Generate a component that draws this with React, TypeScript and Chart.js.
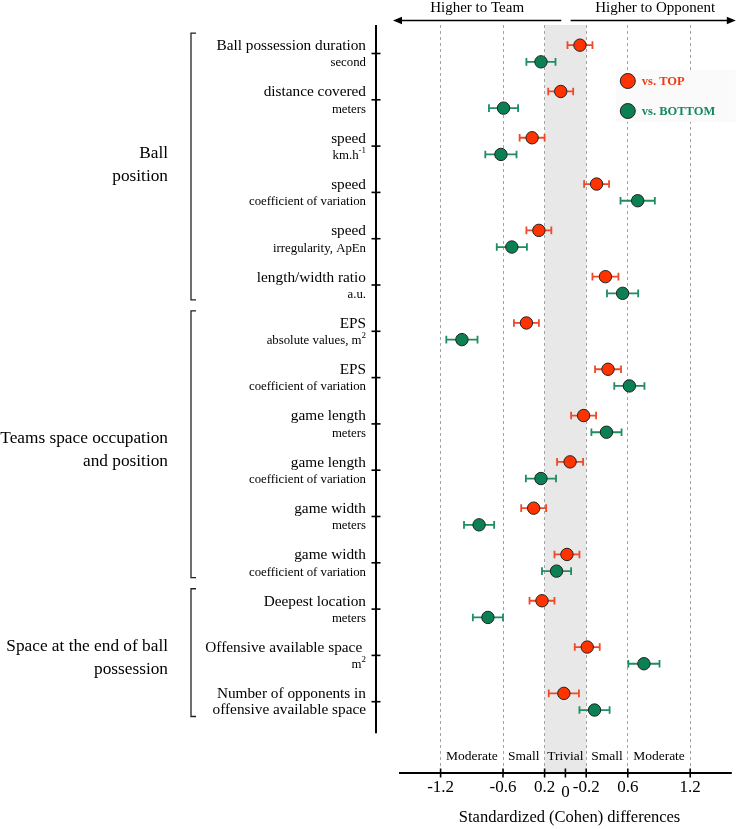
import React, { useEffect, useRef } from "react";
import { Chart, registerables } from "chart.js";

Chart.register(...registerables);

// ---------------- DATA ----------------
const CATEGORY_MAIN = [
  "Ball possession duration",
  "distance covered",
  "speed",
  "speed",
  "speed",
  "length/width ratio",
  "EPS",
  "EPS",
  "game length",
  "game length",
  "game width",
  "game width",
  "Deepest location",
  "Offensive available space ",
  "Number of opponents in",
];
const CATEGORY_SUB = [
  "second",
  "meters",
  "km.h^-1",
  "coefficient of variation",
  "irregularity, ApEn",
  "a.u.",
  "absolute values, m^2",
  "coefficient of variation",
  "meters",
  "coefficient of variation",
  "meters",
  "coefficient of variation",
  "meters",
  "m^2",
  "offensive available space",
];
const TOP_VALUES = [0.14, -0.045, -0.32, 0.3, -0.255, 0.385, -0.375, 0.41, 0.175, 0.045, -0.305, 0.015, -0.225, 0.21, -0.015];
const TOP_ERRORS = [0.12, 0.12, 0.12, 0.12, 0.12, 0.125, 0.12, 0.125, 0.12, 0.125, 0.12, 0.12, 0.12, 0.12, 0.145];
const BOTTOM_VALUES = [-0.235, -0.595, -0.62, 0.695, -0.515, 0.55, -0.995, 0.615, 0.395, -0.235, -0.83, -0.085, -0.745, 0.755, 0.28];
const BOTTOM_ERRORS = [0.14, 0.14, 0.15, 0.165, 0.145, 0.15, 0.15, 0.145, 0.145, 0.145, 0.145, 0.14, 0.145, 0.15, 0.145];

const X_TICK_VALUES = [-1.2, -0.6, -0.2, 0, 0.2, 0.6, 1.2];
const X_TICK_LABELS = ["-1.2", "-0.6", "0.2", "0", "-0.2", "0.6", "1.2"];
const ZONE_BOUNDS = [-1.2, -0.6, -0.2, 0.2, 0.6, 1.2];
const ZONE_LABELS = ["Moderate", "Small", "Trivial", "Small", "Moderate"];
const GROUP_LABELS = [
  ["Ball", "position"],
  ["Teams space occupation", "and position"],
  ["Space at the end of ball", "possession"],
];
const GROUP_RANGES = [
  [0, 5],
  [6, 11],
  [12, 14],
];
const SERIES_LABELS = ["vs. TOP", "vs. BOTTOM"];
const AXIS_TITLE = "Standardized (Cohen) differences";
const TOP_LEFT_TEXT = "Higher to Team";
const TOP_RIGHT_TEXT = "Higher to Opponent";

// ---------------- STYLE ----------------
const SERIF = '"Liberation Serif", "Times New Roman", serif';
const RED = "#ff3300";
const GREEN = "#0b8052";
const RED_BAR = "#ee4a28";
const GREEN_BAR = "#1f8c62";
const RED_TEXT = "#f23a12";
const GREEN_TEXT = "#14895a";
const OFFSET = 0.18;
const GROUP_LABEL_SHIFT = [-4, 3, 3];

function drawRich(ctx: CanvasRenderingContext2D, text: string, xRight: number, y: number, size: number) {
  const parts = text.split("^");
  const base = parts[0];
  const sup = parts[1];
  ctx.textAlign = "right";
  ctx.textBaseline = "middle";
  if (sup) {
    const supSize = size * 0.7;
    ctx.font = `${supSize}px ${SERIF}`;
    const sw = ctx.measureText(sup).width;
    ctx.fillText(sup, xRight, y - size * 0.38);
    ctx.font = `${size}px ${SERIF}`;
    ctx.fillText(base, xRight - sw, y);
  } else {
    ctx.font = `${size}px ${SERIF}`;
    ctx.fillText(base, xRight, y);
  }
}

const decorPlugin = {
  id: "decor",
  beforeDraw(chart: any) {
    const { ctx, chartArea } = chart;
    const x = chart.scales.x;
    ctx.save();
    ctx.fillStyle = "#ffffff";
    ctx.fillRect(0, 0, chart.width, chart.height);
    const x0 = x.getPixelForValue(-0.2);
    const x1 = x.getPixelForValue(0.2);
    ctx.fillStyle = "#e8e8e8";
    ctx.fillRect(x0, chartArea.top, x1 - x0, chartArea.bottom - chartArea.top);
    ctx.restore();
  },
  beforeDatasetsDraw(chart: any) {
    const { ctx, chartArea } = chart;
    const x = chart.scales.x;
    ctx.save();
    // legend box (covers grid lines)
    const lx = x.getPixelForValue(0.6);
    ctx.fillStyle = "#fafafa";
    ctx.fillRect(lx - 12, chartArea.top + 45, chartArea.right + 4 - (lx - 12), 52);
    // error bars
    chart.data.datasets.forEach((ds: any, di: number) => {
      const meta = chart.getDatasetMeta(di);
      ctx.strokeStyle = ds.errorColor;
      ctx.lineWidth = 1.8;
      meta.data.forEach((pt: any, i: number) => {
        const v = ds.data[i].x;
        const e = ds.errors[i];
        const a = x.getPixelForValue(v - e);
        const b = x.getPixelForValue(v + e);
        const yy = pt.y;
        ctx.beginPath();
        ctx.moveTo(a, yy);
        ctx.lineTo(b, yy);
        ctx.moveTo(a, yy - 3.8);
        ctx.lineTo(a, yy + 3.8);
        ctx.moveTo(b, yy - 3.8);
        ctx.lineTo(b, yy + 3.8);
        ctx.stroke();
      });
    });
    ctx.restore();
  },
  afterDraw(chart: any) {
    const { ctx, chartArea } = chart;
    const x = chart.scales.x;
    const y = chart.scales.y;
    ctx.save();
    ctx.fillStyle = "#000";
    ctx.strokeStyle = "#000";

    // ---- legend ----
    const lx = x.getPixelForValue(0.6);
    const legendYs = [chartArea.top + 56, chartArea.top + 86];
    chart.data.datasets.forEach((ds: any, di: number) => {
      const ly = legendYs[di];
      ctx.beginPath();
      ctx.arc(lx, ly, 7.5, 0, Math.PI * 2);
      ctx.fillStyle = ds.backgroundColor;
      ctx.fill();
      ctx.lineWidth = 1;
      ctx.strokeStyle = "#222";
      ctx.stroke();
      ctx.fillStyle = ds.textColor;
      ctx.font = `bold 12.5px ${SERIF}`;
      ctx.textAlign = "left";
      ctx.textBaseline = "middle";
      ctx.fillText(ds.label, lx + 14, ly + 1);
    });

    ctx.fillStyle = "#000";
    ctx.strokeStyle = "#000";

    // ---- x axis line and ticks ----
    const by = chartArea.bottom;
    ctx.lineWidth = 2;
    ctx.beginPath();
    ctx.moveTo(chartArea.left, by);
    ctx.lineTo(chartArea.right, by);
    ctx.stroke();
    ctx.lineWidth = 1.6;
    X_TICK_VALUES.forEach((v, i) => {
      const px = x.getPixelForValue(v);
      ctx.beginPath();
      ctx.moveTo(px, by - 4.5);
      ctx.lineTo(px, by + 4.5);
      ctx.stroke();
      ctx.font = `17px ${SERIF}`;
      ctx.textAlign = "center";
      ctx.textBaseline = "middle";
      ctx.fillText(X_TICK_LABELS[i], px, v === 0 ? by + 20 : by + 15);
    });
    // axis title
    ctx.font = `16.5px ${SERIF}`;
    ctx.textAlign = "center";
    ctx.fillText(AXIS_TITLE, x.getPixelForValue(0.04), by + 45);

    // zone labels
    ctx.font = `13.5px ${SERIF}`;
    ZONE_LABELS.forEach((lab, i) => {
      const c = (x.getPixelForValue(ZONE_BOUNDS[i]) + x.getPixelForValue(ZONE_BOUNDS[i + 1])) / 2;
      ctx.fillText(lab, c, by - 17);
    });

    // ---- top arrows ----
    const ay = chartArea.top - 4.5;
    const lStart = x.getPixelForValue(-0.04);
    const lTip = chartArea.left - 6;
    const rStart = x.getPixelForValue(0.05);
    const rTip = chartArea.right + 4;
    ctx.lineWidth = 1.4;
    ctx.beginPath();
    ctx.moveTo(lStart, ay);
    ctx.lineTo(lTip + 6, ay);
    ctx.moveTo(rStart, ay);
    ctx.lineTo(rTip - 6, ay);
    ctx.stroke();
    ctx.beginPath();
    ctx.moveTo(lTip, ay);
    ctx.lineTo(lTip + 9, ay - 3.8);
    ctx.lineTo(lTip + 9, ay + 3.8);
    ctx.closePath();
    ctx.fill();
    ctx.beginPath();
    ctx.moveTo(rTip, ay);
    ctx.lineTo(rTip - 9, ay - 3.8);
    ctx.lineTo(rTip - 9, ay + 3.8);
    ctx.closePath();
    ctx.fill();
    ctx.font = `15px ${SERIF}`;
    ctx.textAlign = "center";
    ctx.textBaseline = "middle";
    ctx.fillText(TOP_LEFT_TEXT, (lStart + lTip) / 2, ay - 12.5);
    ctx.fillText(TOP_RIGHT_TEXT, (rStart + rTip) / 2 + 2, ay - 12.5);

    // ---- y axis line and ticks ----
    const yx = chartArea.left - 23;
    ctx.lineWidth = 2;
    ctx.beginPath();
    ctx.moveTo(yx, chartArea.top);
    ctx.lineTo(yx, y.getPixelForValue(CATEGORY_MAIN.length - 1 + 0.68));
    ctx.stroke();
    ctx.lineWidth = 1.6;
    const labelRight = yx - 10;
    CATEGORY_MAIN.forEach((main, i) => {
      const py = y.getPixelForValue(i);
      ctx.beginPath();
      ctx.moveTo(yx - 4.5, py);
      ctx.lineTo(yx + 4.5, py);
      ctx.stroke();
      const sub = CATEGORY_SUB[i];
      const subLarge = i === CATEGORY_MAIN.length - 1;
      drawRich(ctx, main, labelRight, py - 7.5, 15.3);
      drawRich(ctx, sub, labelRight, subLarge ? py + 8.5 : py + 9.5, subLarge ? 15.3 : 12.8);
    });

    // ---- brackets and group labels ----
    ctx.strokeStyle = "#222";
    ctx.lineWidth = 1.3;
    GROUP_RANGES.forEach((r, gi) => {
      const top = y.getPixelForValue(r[0] - 0.44);
      const bot = y.getPixelForValue(r[1] + 0.32);
      const bx = 191;
      ctx.beginPath();
      ctx.moveTo(bx + 5, top);
      ctx.lineTo(bx, top);
      ctx.lineTo(bx, bot);
      ctx.lineTo(bx + 5, bot);
      ctx.stroke();
      const mid = (y.getPixelForValue(r[0]) + y.getPixelForValue(r[1])) / 2 + GROUP_LABEL_SHIFT[gi];
      ctx.fillStyle = "#000";
      ctx.font = `17.3px ${SERIF}`;
      ctx.textAlign = "right";
      ctx.textBaseline = "middle";
      const lines = GROUP_LABELS[gi];
      ctx.fillText(lines[0], 168, mid - 11.5);
      ctx.fillText(lines[1], 168, mid + 11.5);
    });

    ctx.restore();
  },
};

export default function App() {
  const ref = useRef<HTMLCanvasElement>(null);
  useEffect(() => {
    document.body.style.margin = "0";
    const canvas = ref.current;
    if (!canvas) return;
    const chart = new Chart(canvas, {
      type: "scatter",
      data: {
        datasets: [
          {
            label: SERIES_LABELS[0],
            data: TOP_VALUES.map((v, i) => ({ x: v, y: i - OFFSET })),
            errors: TOP_ERRORS,
            errorColor: RED_BAR,
            textColor: RED_TEXT,
            backgroundColor: RED,
            borderColor: "#222",
            borderWidth: 1,
            pointRadius: 6.2,
          } as any,
          {
            label: SERIES_LABELS[1],
            data: BOTTOM_VALUES.map((v, i) => ({ x: v, y: i + OFFSET })),
            errors: BOTTOM_ERRORS,
            errorColor: GREEN_BAR,
            textColor: GREEN_TEXT,
            backgroundColor: GREEN,
            borderColor: "#222",
            borderWidth: 1,
            pointRadius: 6.2,
          } as any,
        ],
      },
      options: {
        responsive: false,
        devicePixelRatio: 1,
        animation: false,
        events: [],
        layout: { padding: { left: 399, right: 6, top: 25, bottom: 56 } },
        plugins: { legend: { display: false }, tooltip: { enabled: false } },
        scales: {
          x: {
            type: "linear",
            min: -1.6,
            max: 1.6,
            afterBuildTicks: (s: any) => {
              s.ticks = X_TICK_VALUES.map((v) => ({ value: v }));
            },
            grid: {
              color: (c: any) => (c.tick && c.tick.value === 0 ? "rgba(0,0,0,0)" : "#a3a3a3"),
              lineWidth: 1,
              drawTicks: false,
            },
            border: { display: false, dash: [3, 3] },
            ticks: { display: false },
          },
          y: {
            type: "linear",
            display: false,
            reverse: true,
            min: -0.6156,
            max: 15.54,
          },
        },
      } as any,
      plugins: [decorPlugin],
    });
    return () => chart.destroy();
  }, []);
  return <canvas ref={ref} width={739} height={829} style={{ display: "block" }} />;
}
